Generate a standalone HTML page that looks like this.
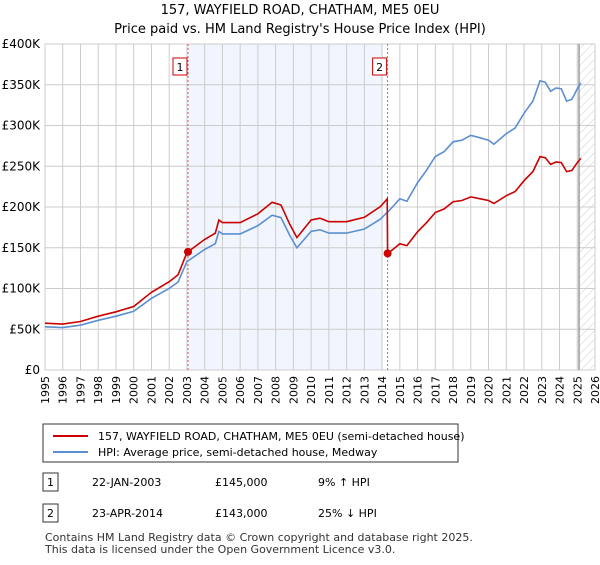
<!DOCTYPE html>
<html><head><meta charset="utf-8"><style>
body{margin:0;background:#fff;font-family:"Liberation Sans","DejaVu Sans",sans-serif;}
svg text{font-family:"DejaVu Sans","Liberation Sans",sans-serif;}
</style></head><body>
<svg id="c" width="600" height="560" viewBox="0 0 600 560" xmlns="http://www.w3.org/2000/svg">
<defs><pattern id="hatch" width="6" height="6" patternUnits="userSpaceOnUse" patternTransform="rotate(45)"><line x1="0" y1="0" x2="0" y2="6" stroke="#ccc" stroke-width="1"/></pattern></defs>
<text x="300" y="14" text-anchor="middle" font-size="13">157, WAYFIELD ROAD, CHATHAM, ME5 0EU</text>
<text x="300" y="33" text-anchor="middle" font-size="13">Price paid vs. HM Land Registry's House Price Index (HPI)</text>
<g id="plot"></g>
<g>
<rect x="43" y="424" width="415" height="38" fill="#fff" stroke="#333" stroke-width="1"/>
<line x1="53" y1="436" x2="88" y2="436" stroke="#cc0000" stroke-width="2"/>
<text x="98" y="440" font-size="11">157, WAYFIELD ROAD, CHATHAM, ME5 0EU (semi-detached house)</text>
<line x1="53" y1="452" x2="88" y2="452" stroke="#5b8fd0" stroke-width="2"/>
<text x="98" y="456" font-size="11">HPI: Average price, semi-detached house, Medway</text>
</g>
<g font-size="11">
<rect x="43" y="473" width="15" height="18" fill="#fff" stroke="#333"/><text x="50.5" y="486" text-anchor="middle">1</text>
<text x="92" y="486">22-JAN-2003</text><text x="215" y="486">£145,000</text><text x="318" y="486">9% ↑ HPI</text>
<rect x="43" y="504" width="15" height="18" fill="#fff" stroke="#333"/><text x="50.5" y="517" text-anchor="middle">2</text>
<text x="92" y="517">23-APR-2014</text><text x="215" y="517">£143,000</text><text x="318" y="517">25% ↓ HPI</text>
</g>
<text x="45" y="541" font-size="11" fill="#333">Contains HM Land Registry data © Crown copyright and database right 2025.</text>
<text x="45" y="553" font-size="11" fill="#333">This data is licensed under the Open Government Licence v3.0.</text>
</svg>
<script>
const hpiYears=[1995,1996,1997,1998,1999,2000,2000.5,2001,2002,2002.5,2003,2004,2004.6,2004.8,2005,2006,2007,2007.8,2008.3,2008.8,2009.2,2009.6,2010,2010.5,2011,2012,2013,2013.9,2014.5,2015,2015.4,2016,2016.5,2017,2017.5,2018,2018.5,2019,2019.5,2020,2020.3,2021,2021.5,2022,2022.5,2022.9,2023.2,2023.5,2023.8,2024.1,2024.4,2024.7,2025,2025.2];
const hpiValues=[53,52,55,61,66,72,80,88,100,108,133,148,155,170,167,167,177,190,187,165,150,160,170,172,168,168,173,185,198,210,207,230,245,262,268,280,282,288,285,282,277,290,297,315,330,355,353,342,346,345,330,332,345,352];
const saleYears=[2003.06,2014.31];
const salePrices=[145,143];
const yTicks=[0,50,100,150,200,250,300,350,400];
const yTickLabels=["£0","£50K","£100K","£150K","£200K","£250K","£300K","£350K","£400K"];
const xTicks=[];for(let y=1995;y<=2026;y++)xTicks.push(y);
const X0=45,X1=595,Y0=370,Y1=44;
const x=v=>X0+(v-1995)*(X1-X0)/31;
const y=v=>Y0-v*(Y0-Y1)/400;
const NS="http://www.w3.org/2000/svg";
const g=document.getElementById('plot');
function mk(t,a){const e=document.createElementNS(NS,t);for(const k in a)e.setAttribute(k,a[k]);g.appendChild(e);return e;}
function hpiAt(t){for(let i=0;i<hpiYears.length-1;i++){if(t<=hpiYears[i+1]){const f=(t-hpiYears[i])/(hpiYears[i+1]-hpiYears[i]);return hpiValues[i]+f*(hpiValues[i+1]-hpiValues[i]);}}return hpiValues[hpiValues.length-1];}
let r=mk('rect',{x:x(saleYears[0]),y:Y1,width:x(2014)-x(saleYears[0]),height:Y0-Y1,fill:'#eef3fc',opacity:0.8});


let h=mk('rect',{x:x(2025.1),y:Y1,width:X1-x(2025.1),height:Y0-Y1,fill:'url(#hatch)'});


xTicks.forEach(t=>{const l=mk('line',{x1:x(t),x2:x(t),y1:Y1,y2:Y0,stroke:'#ccc','stroke-width':1});


const tx=mk('text',{x:x(t)+4,y:Y0+6,'font-size':11,transform:`rotate(-90 ${x(t)+4} ${Y0+6})`,'text-anchor':'end'});tx.textContent=t;

});
yTicks.forEach((t,i)=>{const l=mk('line',{x1:X0,x2:X1,y1:y(t),y2:y(t),stroke:'#ccc','stroke-width':1});


const tx=mk('text',{x:40,y:y(t)+4,'font-size':12,'text-anchor':'end'});tx.textContent=yTickLabels[i];

});
let vl=mk('line',{x1:x(2025.1),x2:x(2025.1),y1:Y1,y2:Y0,stroke:'#999','stroke-width':1.5});


saleYears.forEach((s,i)=>{const l=mk('line',{x1:x(s),x2:x(s),y1:Y1,y2:Y0,stroke:'#e06060','stroke-width':1,'stroke-dasharray':'2,2'});


const b=mk('rect',{x:x(s)-15,y:58,width:14,height:17,fill:'#fff',stroke:'#cc0000'});


const t=mk('text',{x:x(s)-8,y:71,'font-size':11,'text-anchor':'middle'});t.textContent=i+1;

});
// series
const bp=hpiYears.map((t,i)=>`${x(t).toFixed(1)},${y(hpiValues[i]).toFixed(1)}`).join(' ');
let bl=mk('polyline',{points:bp,fill:'none',stroke:'#5b8fd0','stroke-width':1.6});


const k1=salePrices[0]/hpiAt(saleYears[0]),k2=salePrices[1]/hpiAt(saleYears[1]);
const rp=[];
hpiYears.forEach((t,i)=>{if(t<saleYears[1])rp.push([t,hpiValues[i]*k1]);});
rp.push([saleYears[1]-0.02,hpiAt(saleYears[1])*k1]);
rp.push([saleYears[1],salePrices[1]]);
hpiYears.forEach((t,i)=>{if(t>saleYears[1])rp.push([t,hpiValues[i]*k2]);});
let rl=mk('polyline',{points:rp.map(p=>`${x(p[0]).toFixed(1)},${y(p[1]).toFixed(1)}`).join(' '),fill:'none',stroke:'#cc0000','stroke-width':1.6});


saleYears.forEach((s,i)=>{const c=mk('circle',{cx:x(s),cy:y(salePrices[i]),r:4,fill:'#cc0000'});

});
</script>
</body></html>
